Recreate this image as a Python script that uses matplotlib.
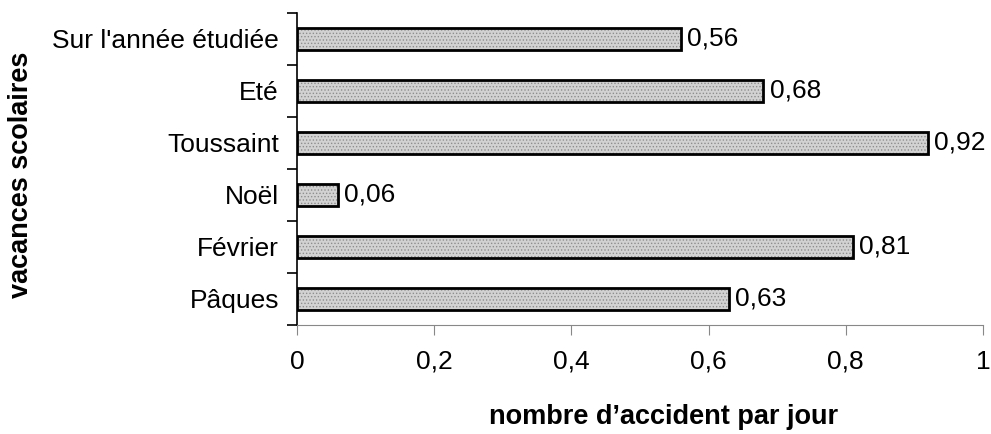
import numpy as np
import matplotlib.pyplot as plt
from matplotlib.ticker import FuncFormatter

plt.rcParams['font.family'] = ['Liberation Sans', 'DejaVu Sans']
plt.rcParams['hatch.linewidth'] = 0.6

# données (du bas vers le haut)
periodes = ["Pâques", "Février", "Noël", "Toussaint", "Eté", "Sur l'année étudiée"]
accidents_par_jour = [0.63, 0.81, 0.06, 0.92, 0.68, 0.56]
graduations = [0, 0.2, 0.4, 0.6, 0.8, 1]

fig = plt.figure(figsize=(9.91, 4.34), dpi=100)
ax = fig.add_axes([0.2997, 0.2512, 0.6922, 0.7189])

y = np.arange(len(periodes))
# fond tramé puis contour noir
ax.barh(y, accidents_par_jour, height=0.44, color='#d2d2d2', hatch='.....',
        edgecolor='#8e8e8e', linewidth=0, zorder=3)
ax.barh(y, accidents_par_jour, height=0.44, fill=False,
        edgecolor='black', linewidth=2, zorder=4)

for yi, v in zip(y, accidents_par_jour):
    ax.text(v + 0.009, yi, f"{v:.2f}".replace('.', ','), va='center',
            ha='left', fontsize=19)

ax.set_xlim(0, 1)
ax.set_ylim(-0.5, len(periodes) - 0.5)
ax.set_xticks(graduations)
ax.xaxis.set_major_formatter(FuncFormatter(
    lambda v, p: f"{v:g}".replace('.', ',')))

# étiquettes de catégories centrées, graduations entre catégories
ax.set_yticks(np.arange(-0.5, len(periodes), 1.0))
ax.set_yticklabels([])
ax.set_yticks(y, minor=True)
ax.set_yticklabels(periodes, minor=True, fontsize=19)
ax.tick_params(axis='y', which='minor', length=0, pad=13)
ax.tick_params(axis='y', which='major', length=7, width=1.2, direction='out')
ax.tick_params(axis='x', length=7, width=0.8, color='#888888',
               labelsize=19, pad=11)

ax.spines['top'].set_visible(False)
ax.spines['right'].set_visible(False)
ax.spines['left'].set_linewidth(1.2)
ax.spines['bottom'].set_color('#888888')
ax.spines['bottom'].set_linewidth(0.8)

ax.set_xlabel("nombre d’accident par jour", fontsize=19.5, fontweight='bold')
ax.set_ylabel("vacances scolaires", fontsize=19.5, fontweight='bold')
ax.xaxis.set_label_coords(0.534, -0.253)
ax.yaxis.set_label_coords(-0.383, 0.481)

fig.savefig("out.png", dpi=100)
